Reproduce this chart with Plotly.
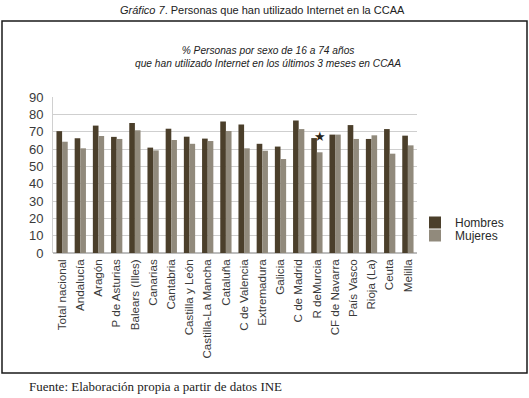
import plotly.graph_objects as go

categorias = ["Total nacional", "Andalucía", "Aragón", "P de Asturias", "Balears (Illes)",
              "Canarias", "Cantabria", "Castilla y León", "Castilla-La Mancha", "Cataluña",
              "C de Valencia", "Extremadura", "Galicia", "C de Madrid", "R deMurcia",
              "CF de Navarra", "País Vasco", "Rioja (La)", "Ceuta", "Melilla"]
hombres = [70.3, 66.2, 73.5, 67.0, 75.0, 60.8, 71.7, 67.1, 66.0, 75.8,
           74.2, 63.0, 61.4, 76.5, 66.3, 68.3, 73.8, 65.8, 71.5, 67.7]
mujeres = [64.2, 60.4, 67.5, 65.8, 70.8, 59.2, 65.2, 63.0, 64.6, 70.4,
           60.4, 59.0, 54.2, 71.5, 58.1, 68.3, 65.8, 67.9, 57.3, 62.1]
y_ticks = [0, 10, 20, 30, 40, 50, 60, 70, 80, 90]

W, H = 529, 398
L, R, T, B = 53, 417, 97, 253

def px(x):
    return (x - L) / (R - L)

def py(y):
    return (B - y) / (B - T)

fig = go.Figure()
fig.add_trace(go.Bar(name="Hombres", x=categorias, y=hombres, marker_color="#4b3f2b",
                     marker_line_width=0, legend="legend"))
fig.add_trace(go.Bar(name="Mujeres", x=categorias, y=mujeres, marker_color="#918a7c",
                     marker_line_width=0, legend="legend2"))

leg_common = dict(xanchor="left", yanchor="top", font=dict(size=12, color="#2a2a2a"),
                  itemwidth=30, bgcolor="rgba(0,0,0,0)")

fig.update_layout(
    width=W, height=H,
    margin=dict(l=L, r=W - R, t=T, b=H - B),
    paper_bgcolor="white", plot_bgcolor="white",
    barmode="group", bargap=0.38, bargroupgap=0,
    font=dict(family="Liberation Sans, Arial", color="#3a3a3a"),
    showlegend=True,
    legend=dict(x=px(415), y=py(208), **leg_common),
    legend2=dict(x=px(415), y=py(221), **leg_common),
    xaxis=dict(tickangle=-90, tickfont=dict(size=11.6, color="#3a3a3a"),
               showline=False, ticks="", showgrid=False, ticklabelstandoff=3),
    yaxis=dict(range=[0, 90], tickvals=y_ticks, tickfont=dict(size=13, color="#3a3a3a"),
               showgrid=True, gridcolor="#cfcfcf", gridwidth=1, zeroline=True,
               zerolinecolor="#bdbdbd", showline=True, linecolor="#d0d0d0",
               ticks="", ticklabelstandoff=6),
)

# outer frame
fig.add_shape(type="rect", xref="paper", yref="paper",
              x0=px(2), x1=px(527), y0=py(373), y1=py(21),
              line=dict(color="#1a1a1a", width=1.5), fillcolor="rgba(0,0,0,0)", layer="below")

# titles
fig.add_annotation(xref="paper", yref="paper", x=px(262), y=py(10), showarrow=False,
                   text="<i>Gráfico 7</i>. Personas que han utilizado Internet en la CCAA",
                   font=dict(family="Liberation Sans Narrow, Arial Narrow, Liberation Sans",
                             size=11, color="#222222"), xanchor="center", yanchor="middle")
fig.add_annotation(xref="paper", yref="paper", x=px(268), y=py(57), showarrow=False,
                   text="<i>% Personas por sexo de 16 a 74 años<br>que han utilizado Internet en los últimos 3 meses en CCAA</i>",
                   font=dict(family="Liberation Sans Narrow, Arial Narrow, Liberation Sans",
                             size=10.2, color="#222222"), xanchor="center", yanchor="middle",
                   align="center")
fig.add_annotation(xref="paper", yref="paper", x=px(27), y=py(386), showarrow=False,
                   text="Fuente: Elaboración propia a partir de datos INE",
                   font=dict(family="Liberation Serif, serif", size=13, color="#222222"),
                   xanchor="left", yanchor="middle")
# star marker over R de Murcia
fig.add_annotation(x="R deMurcia", y=67.5, xref="x", yref="y", showarrow=False,
                   text="★", xshift=3, font=dict(size=13, color="#2a2418"),
                   yanchor="middle")

fig.write_html("out.html", config={"displayModeBar": False},
               post_script="document.body.style.margin='0';")
